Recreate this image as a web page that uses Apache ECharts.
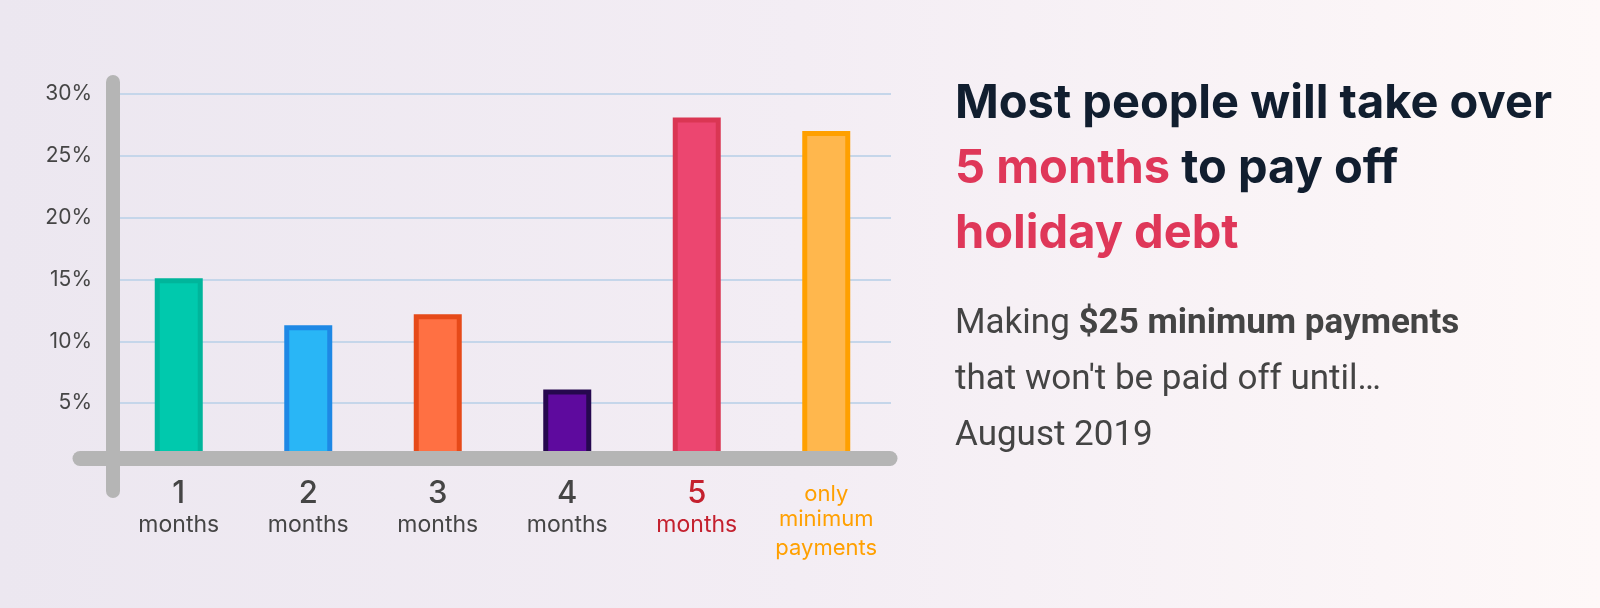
<!DOCTYPE html>
<html>
<head>
<meta charset="utf-8">
<script src="https://cdn.jsdelivr.net/npm/echarts@6/dist/echarts.min.js"></script>
<style>
  html, body { margin: 0; padding: 0; }
  body { background: linear-gradient(90deg, #ece7f0 0%, #f3edf4 50%, #fef8f8 100%); }
  #chart { width: 1600px; height: 608px; }
</style>
</head>
<body>
<div id="chart"></div>
<script>
// values (share of people, %)
const categories = ['1 months', '2 months', '3 months', '4 months', '5 months', 'only minimum payments'];
const shares = [15.1, 11.3, 12.2, 6.1, 28.1, 27.0];
const yMax = 30;
const yStep = 5;

const fills = ['#00c9ad', '#29b6f6', '#ff7043', '#5e0a9e', '#ec4670', '#ffb74d'];
const edges = ['#00b59b', '#1e88e5', '#e64a19', '#26084f', '#da3653', '#ffa000'];

const labelFont = 'Inter, "Noto Sans", sans-serif';
const grey = '#454545';

let myChart = echarts.init(document.getElementById('chart'));
myChart.setOption({
  backgroundColor: 'transparent',
  title: [
    {
      left: 950,
      top: 66,
      text: '{d|Most people will take over}\n{r|5 months}{d| to pay off}\n{r|holiday debt}',
      textStyle: {
        rich: {
          d: { fontFamily: labelFont, fontSize: 47, fontWeight: 700, color: '#111e2f', lineHeight: 65 },
          r: { fontFamily: labelFont, fontSize: 47, fontWeight: 700, color: '#df3759', lineHeight: 65 }
        }
      }
    },
    {
      left: 950,
      top: 291,
      text: '{n|Making }{b|$25 minimum payments}\n{n|that won\'t be paid off until…}\n{n|August 2019}',
      textStyle: {
        rich: {
          n: { fontFamily: 'Roboto', fontSize: 35, fontWeight: 'normal', color: '#444', lineHeight: 56 },
          b: { fontFamily: 'Roboto', fontSize: 35, fontWeight: 'bold', color: '#444', lineHeight: 56 }
        }
      }
    }
  ],
  grid: { left: 114, right: 709, top: 94, bottom: 143 },
  xAxis: {
    type: 'category',
    data: categories,
    axisLine: { show: false },
    axisTick: { show: false },
    axisLabel: {
      margin: 11,
      interval: 0,
      align: 'center',
      formatter: (v, i) => {
        if (i === 5) return '{o1|only}\n{o|minimum}\n{o|payments}';
        const parts = v.split(' ');
        const k = i === 4 ? 'r' : 'd';
        return '{' + k + 'n|' + parts[0] + '}\n{' + k + 'm|' + parts[1] + '}';
      },
      rich: {
        dn: { fontFamily: labelFont, fontSize: 31, fontWeight: 500, color: grey, lineHeight: 36, align: 'center' },
        dm: { fontFamily: labelFont, fontSize: 23, color: grey, lineHeight: 27, align: 'center' },
        rn: { fontFamily: labelFont, fontSize: 31, fontWeight: 500, color: '#c4202e', lineHeight: 36, align: 'center' },
        rm: { fontFamily: labelFont, fontSize: 23, color: '#c4202e', lineHeight: 27, align: 'center' },
        o1: { fontFamily: labelFont, fontSize: 22, color: '#ffa000', lineHeight: 29, padding: [7, 0, 0, 0], align: 'center' },
        o: { fontFamily: labelFont, fontSize: 22, color: '#ffa000', lineHeight: 29, align: 'center' }
      }
    }
  },
  yAxis: {
    type: 'value',
    min: 0,
    max: yMax,
    interval: yStep,
    axisLine: { show: false },
    axisTick: { show: false },
    axisLabel: {
      margin: 22,
      fontFamily: labelFont,
      fontSize: 21,
      color: grey,
      formatter: v => (v === 0 ? '' : v + '%')
    },
    splitLine: { lineStyle: { color: '#c5d6ea', width: 2 } }
  },
  series: [
    {
      type: 'bar',
      barWidth: 48,
      data: shares.map((v, i) => ({
        value: v,
        itemStyle: { color: fills[i], borderColor: edges[i], borderWidth: 5 }
      }))
    }
  ],
  // the thick rounded axis strokes of the original drawing
  graphic: [
    {
      type: 'line', z: 100,
      shape: { x1: 113, y1: 82, x2: 113, y2: 491 },
      style: { stroke: '#b5b5b5', lineWidth: 14, lineCap: 'round' }
    },
    {
      type: 'line', z: 100,
      shape: { x1: 80, y1: 458.5, x2: 890, y2: 458.5 },
      style: { stroke: '#b5b5b5', lineWidth: 15, lineCap: 'round' }
    }
  ]
});
</script>
</body>
</html>
